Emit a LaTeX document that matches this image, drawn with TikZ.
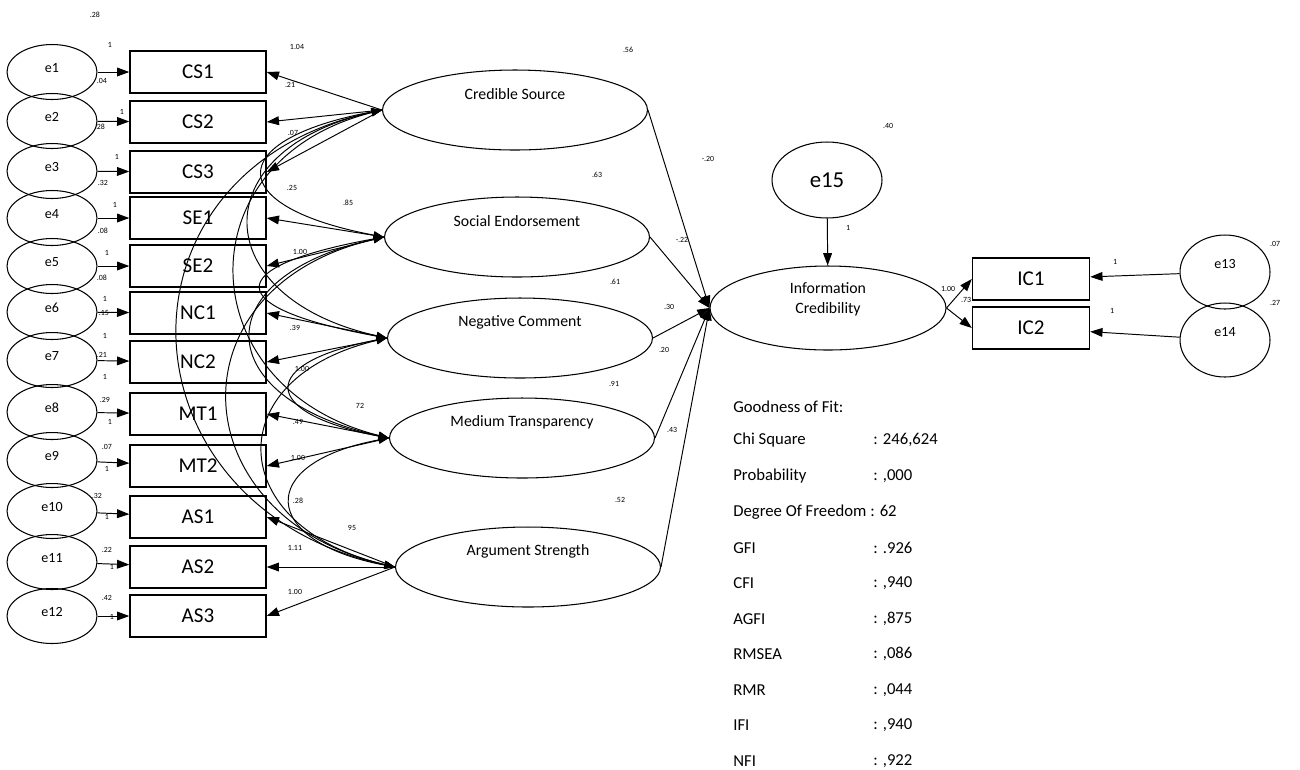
\documentclass[tikz,border=0pt]{standalone}
\usepackage{fontspec}
\setmainfont{Carlito}
\usepackage{tikz}
\usetikzlibrary{shapes.geometric, arrows.meta, positioning}
\tikzset{
  errvar/.style={ellipse, draw, minimum width=1.8cm, minimum height=1.1cm,
    inner sep=0pt, text depth=5pt, line width=0.6pt, font=\fontsize{8}{9}\selectfont},
  ind/.style={rectangle, draw, minimum width=2.72cm, minimum height=0.84cm,
    inner sep=0pt, line width=0.8pt, font=\fontsize{12}{14}\selectfont},
  latent/.style={ellipse, draw, minimum width=5.3cm, minimum height=1.6cm,
    inner sep=0pt, line width=0.6pt},
  lattext/.style={font=\fontsize{9}{11}\selectfont, inner sep=0pt},
  num/.style={font=\fontsize{4.5}{5}\selectfont, inner sep=0pt},
  gof/.style={anchor=west, font=\fontsize{9.5}{11}\selectfont, inner sep=0pt},
  arrow/.style={-{Triangle[length=7pt,width=5pt]}, line width=0.55pt},
  cov/.style={{Triangle[length=6pt,width=4.5pt]}-{Triangle[length=6pt,width=4.5pt]}, line width=0.55pt}
}
\begin{document}
\begin{tikzpicture}[x=0.02cm, y=-0.02cm]
  \useasboundingbox (0,0) rectangle (1300,769);

  % Error terms and indicators
  \foreach \i/\y in {1/72,2/121,3/171,4/218,5/266,6/312,7/360,8/412,9/460,10/511,11/562,12/616}
    \node[errvar] (e\i) at (52,\y) {e\i};
  \foreach \n/\y in {CS1/72,CS2/122,CS3/172,SE1/218,SE2/266,NC1/313,NC2/362,MT1/414,MT2/466,AS1/517,AS2/567,AS3/616}
    \node[ind] (\n) at (198,\y) {\n};
  \foreach \i/\n in {1/CS1,2/CS2,3/CS3,4/SE1,5/SE2,6/NC1,7/NC2,8/MT1,9/MT2,10/AS1,11/AS2,12/AS3}
    \draw[arrow] (e\i) -- (\n);

  % Exogenous latents
  \node[latent, label={[lattext, yshift=9pt]center:Credible Source}] (cs) at (515,110) {};
  \node[latent, label={[lattext, yshift=9pt]center:Social Endorsement}] (se) at (517,237) {};
  \node[latent, label={[lattext, yshift=9pt]center:Negative Comment}] (nc) at (520,338) {};
  \node[latent, label={[lattext, yshift=9pt]center:Medium Transparency}] (mt) at (522,438) {};
  \node[latent, label={[lattext, yshift=9pt]center:Argument Strength}] (as) at (528,567) {};

  % Endogenous side
  \node[latent, minimum width=4.72cm, minimum height=1.68cm,
    label={[lattext, align=center, yshift=5pt]center:{Information\\Credibility}}] (ic) at (828,308) {};
  \node[ellipse, draw, line width=0.6pt, minimum width=2.2cm, minimum height=1.52cm,
    inner sep=0pt, font=\fontsize{13}{15}\selectfont] (e15) at (827,180) {e15};
  \node[ind, minimum width=2.34cm] (IC1) at (1031,279) {IC1};
  \node[ind, minimum width=2.34cm] (IC2) at (1031,328) {IC2};
  \node[errvar, minimum height=1.48cm, text depth=9pt] (e13) at (1225,272) {e13};
  \node[errvar, minimum height=1.48cm, text depth=9pt] (e14) at (1225,340) {e14};

  % Loadings
  \draw[arrow] (cs.west) -- (CS1.east);
  \draw[arrow] (cs.west) -- (CS2.east);
  \draw[arrow] (cs.west) -- (CS3.east);
  \draw[arrow] (se.west) -- (SE1.east);
  \draw[arrow] (se.west) -- (SE2.east);
  \draw[arrow] (nc.west) -- (NC1.east);
  \draw[arrow] (nc.west) -- (NC2.east);
  \draw[arrow] (mt.west) -- (MT1.east);
  \draw[arrow] (mt.west) -- (MT2.east);
  \draw[arrow] (as.west) -- (AS1.east);
  \draw[arrow] (as.west) -- (AS2.east);
  \draw[arrow] (as.west) -- (AS3.east);

  % Covariances
  \draw[cov] (cs.west) .. controls +(-160,30) and +(-160,-30) .. (se.west);
  \draw[cov] (cs.west) .. controls +(-180,40) and +(-180,-40) .. (nc.west);
  \draw[cov] (cs.west) .. controls +(-200,50) and +(-200,-50) .. (mt.west);
  \draw[cov] (cs.west) .. controls +(-280,60) and +(-280,-60) .. (as.west);
  \draw[cov] (se.west) .. controls +(-165,30) and +(-165,-30) .. (nc.west);
  \draw[cov] (se.west) .. controls +(-180,40) and +(-180,-40) .. (mt.west);
  \draw[cov] (se.west) .. controls +(-215,50) and +(-215,-50) .. (as.west);
  \draw[cov] (nc.west) .. controls +(-130,25) and +(-130,-25) .. (mt.west);
  \draw[cov] (nc.west) .. controls +(-170,40) and +(-170,-40) .. (as.west);
  \draw[cov] (mt.west) .. controls +(-135,25) and +(-135,-25) .. (as.west);

  % Structural paths
  \foreach \l in {cs,se,nc,mt,as}
    \draw[arrow] (\l.east) -- (ic.west);
  \draw[arrow] (e15) -- (ic);
  \draw[arrow] (ic.east) -- (IC1.west);
  \draw[arrow] (ic.east) -- (IC2.west);
  \draw[arrow] (e13) -- (IC1);
  \draw[arrow] (e14) -- (IC2);

  % Estimates
  \foreach \x/\y/\t [count=\i] in {95/15/.28, 110/45/1, 102/81/.04, 122/112/1, 100/127/.28,
      117/157/1, 103/183/.32, 115/205/1, 103/231/.08, 107/253/1, 102/278/.08,
      105/299/1, 104/313/.15, 105/336/1, 102/355/.21, 105/377/1, 105/400/.29,
      110/422/1, 107/447/.07, 107/469/1, 97/496/.32, 107/517/1, 107/550/.22,
      112/567/1, 107/598/.42, 112/617/1,
      297/47/1.04, 290/85/.21, 293/133/.07, 292/188/.25, 348/203/.85,
      300/252/1.00, 295/328/.39, 302/369/1.00, 360/406/72, 298/422/.49,
      298/458/1.00, 298/501/.28, 352/528/95, 295/548/1.11, 295/592/1.00,
      628/50/.56, 597/175/.63, 615/282/.61, 614/384/.91, 620/500/.52,
      708/159/-.20, 682/240/-.22, 669/307/.30, 664/350/.20, 672/430/.43,
      888/126/.40, 848/228/1, 948/289/1.00, 966/300/.73, 1275/244/.07,
      1275/303/.27, 1115/262/1, 1112/311/1}
    \node[num] (v\i) at (\x,\y) {\t};

  % Goodness of fit
  \node[gof] (g0) at (733,407) {Goodness of Fit:};
  \node[gof] (g3) at (733,512) {Degree Of Freedom : 62};
  \foreach \k/\v/\y [count=\i] in {Chi Square/{: 246,624}/440, Probability/{: ,000}/476,
      GFI/{: .926}/548, CFI/{: ,940}/583, AGFI/{: ,875}/619, RMSEA/{: ,086}/654,
      RMR/{: ,044}/690, IFI/{: ,940}/725, NFI/{: ,922}/761}
  {
    \node[gof] (gk\i) at (733,\y) {\k};
    \node[gof] (gv\i) at (873,\y) {\v};
  }
\end{tikzpicture}
\end{document}
